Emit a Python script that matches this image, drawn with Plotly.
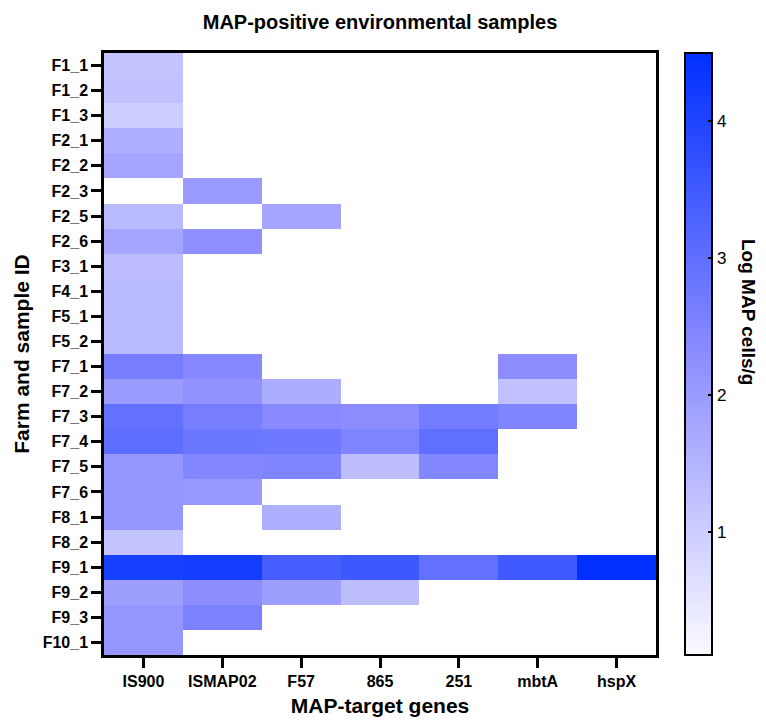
import plotly.graph_objects as go

genes = ["IS900", "ISMAP02", "F57", "865", "251", "mbtA", "hspX"]
samples = ["F1_1", "F1_2", "F1_3", "F2_1", "F2_2", "F2_3", "F2_5", "F2_6",
           "F3_1", "F4_1", "F5_1", "F5_2", "F7_1", "F7_2", "F7_3", "F7_4",
           "F7_5", "F7_6", "F8_1", "F8_2", "F9_1", "F9_2", "F9_3", "F10_1"]

N = None
IS900   = [1.2, 1.25, 1.0, 1.6, 1.8, N, 1.4, 1.8, 1.35, 1.4, 1.4, 1.4, 2.65, 2.0, 2.95, 3.05, 2.1, 2.1, 2.1, 1.2, 4.15, 1.95, 2.1, 2.1]
ISMAP02 = [N, N, N, N, N, 2.0, N, 2.25, N, N, N, N, 2.4, 2.2, 2.65, 2.8, 2.45, 2.05, N, N, 4.2, 2.3, 2.55, N]
F57     = [N, N, N, N, N, N, 1.8, N, N, N, N, N, N, 1.65, 2.35, 2.75, 2.5, N, 1.6, N, 3.4, 1.95, N, N]
G865    = [N, N, N, N, N, N, N, N, N, N, N, N, N, N, 2.3, 2.5, 1.3, N, N, N, 3.55, 1.3, N, N]
G251    = [N, N, N, N, N, N, N, N, N, N, N, N, N, N, 2.7, 3.0, 2.45, N, N, N, 2.95, N, N, N]
mbtA    = [N, N, N, N, N, N, N, N, N, N, N, N, 2.3, 1.25, 2.5, N, N, N, N, N, 3.5, N, N, N]
hspX    = [N, N, N, N, N, N, N, N, N, N, N, N, N, N, N, N, N, N, N, N, 4.5, N, N, N]

cbar_ticks = [1, 2, 3, 4]
ZMIN, ZMAX = 0.1, 4.5

columns = [IS900, ISMAP02, F57, G865, G251, mbtA, hspX]
z = [[col[i] for col in columns] for i in range(len(samples))]

FONT = "Liberation Sans, Arial, sans-serif"
# page body has an 8px default margin; figure is placed at (8, 8)
W, H = 750, 709
L, R, T, B = 96, 102, 45, 62
PW, PH = W - L - R, H - T - B
OFF = 8

fig = go.Figure(go.Heatmap(
    z=z, x=genes, y=samples,
    zmin=ZMIN, zmax=ZMAX,
    colorscale=[[0, "rgb(250,250,255)"], [0.5, "rgb(140,140,255)"], [1, "rgb(0,48,255)"]],
    hoverongaps=False,
    colorbar=dict(
        x=(685 - OFF - L) / PW, xanchor="left", xref="paper", xpad=0,
        y=0.5, yanchor="middle", len=1, lenmode="fraction", ypad=0,
        thickness=27, outlinewidth=2, outlinecolor="black",
        tickvals=cbar_ticks, ticks="inside", ticklen=5, tickwidth=1.5, tickcolor="black",
        tickfont=dict(family=FONT, size=17, color="black"),
    ),
))

# small inward ticks on the left edge of the colour bar
cb_left = (685 - OFF - L) / PW
for v in cbar_ticks:
    yy = (v - ZMIN) / (ZMAX - ZMIN)
    fig.add_shape(type="line", xref="paper", yref="paper",
                  x0=cb_left, x1=cb_left + 5 / PW, y0=yy, y1=yy,
                  line=dict(color="black", width=1.5))

fig.add_annotation(
    text="<b>Log MAP cells/g</b>", textangle=90,
    xref="paper", yref="paper", x=(749 - OFF - L) / PW, y=(655 - 312) / PH,
    xanchor="center", yanchor="middle", showarrow=False,
    font=dict(family=FONT, size=19, color="black"),
)

fig.update_layout(
    width=W, height=H,
    margin=dict(l=L, r=R, t=T, b=B),
    plot_bgcolor="white", paper_bgcolor="white",
    title=dict(text="<b>MAP-positive environmental samples</b>", x=(380 - OFF) / W, xanchor="center",
               y=1 - 14 / H, yanchor="middle",
               font=dict(family=FONT, size=20, color="black")),
    xaxis=dict(
        automargin=False,
        showline=True, linewidth=2.5, linecolor="black", mirror=True,
        ticks="outside", ticklen=10, tickwidth=2.5, tickcolor="black",
        tickfont=dict(family=FONT, size=16, color="black", weight="bold"),
        title=dict(text="<b>MAP-target genes</b>", font=dict(family=FONT, size=21, color="black"),
                   standoff=14),
        showgrid=False, zeroline=False,
    ),
    yaxis=dict(
        automargin=False,
        autorange="reversed",
        showline=True, linewidth=2.5, linecolor="black", mirror=True,
        ticks="outside", ticklen=10, tickwidth=2.5, tickcolor="black",
        tickfont=dict(family=FONT, size=16, color="black", weight="bold"),
        title=dict(text="<b>Farm and sample ID</b>", font=dict(family=FONT, size=21, color="black"),
                   standoff=8),
        showgrid=False, zeroline=False,
    ),
)

fig.write_html("out.html")
